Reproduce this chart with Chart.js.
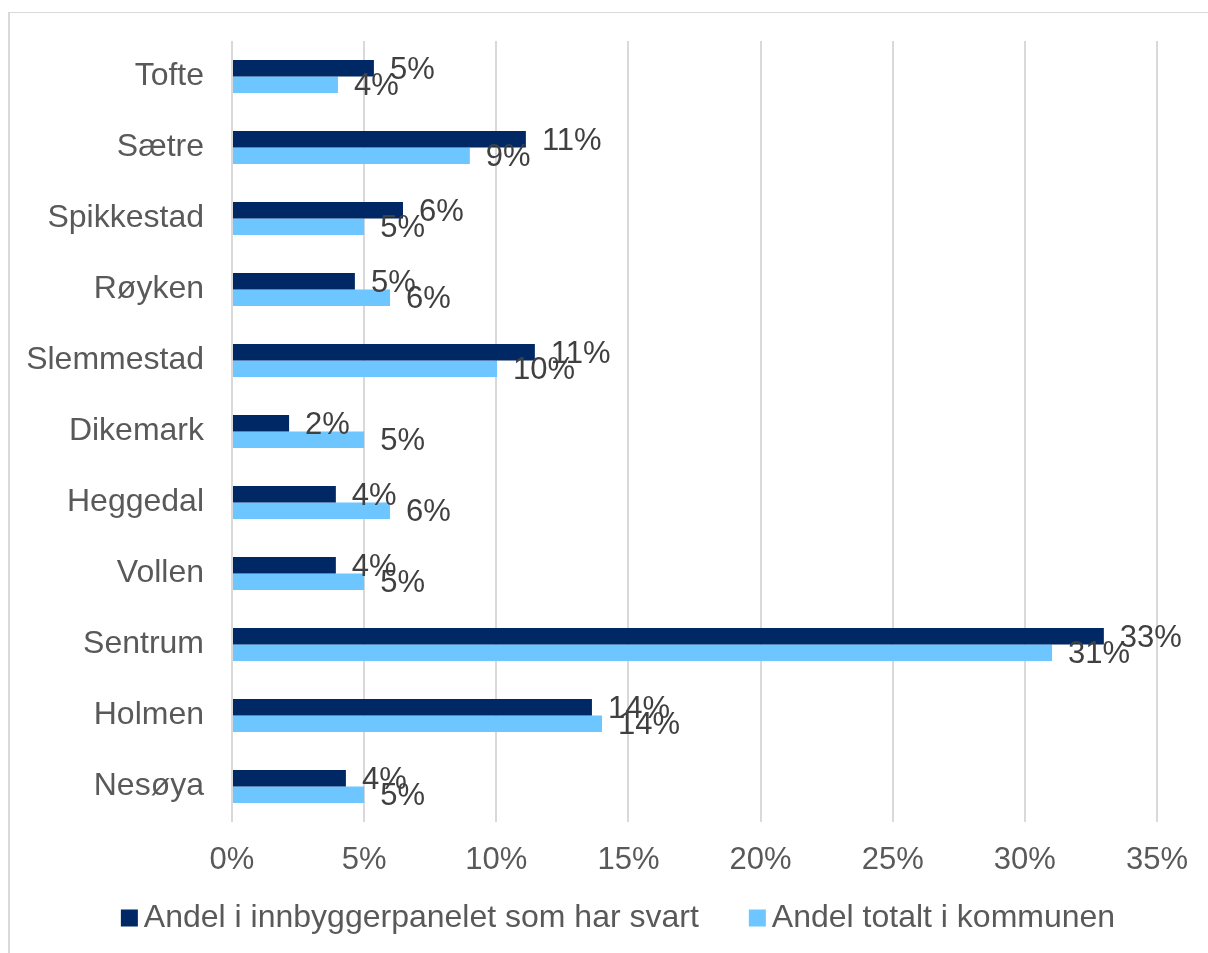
<!DOCTYPE html>
<html lang="no">
<head>
<meta charset="utf-8">
<title>Andel per område</title>
<script src="https://cdn.jsdelivr.net/npm/chart.js@4/dist/chart.umd.min.js"></script>
<style>
  html, body { margin: 0; padding: 0; background: #fff; overflow: hidden; }
  #ramme {
    position: absolute; left: 8px; top: 12px;
    width: 1220px; height: 960px;
    border: 1px solid #d9d9d9; border-left-width: 2px;
  }
  #wrap { position: absolute; left: 0; top: 0; width: 1208px; height: 953px; }
</style>
</head>
<body>
<div id="ramme"></div>
<div id="wrap"><canvas id="chartOmrade" width="1208" height="953"></canvas></div>
<script>
// områder, øverst til nederst
const omrader = ["Tofte", "Sætre", "Spikkestad", "Røyken", "Slemmestad", "Dikemark",
  "Heggedal", "Vollen", "Sentrum", "Holmen", "Nesøya"];

// andel i prosent
const andelPanel = [5.37, 11.12, 6.47, 4.65, 11.46, 2.16, 3.93, 3.93, 32.99, 13.62, 4.31];
const andelKommune = [4.01, 9.0, 5.0, 5.98, 10.03, 5.0, 5.98, 5.0, 31.03, 14.0, 5.0];

const navnPanel = "Andel i innbyggerpanelet som har svart";
const navnKommune = "Andel totalt i kommunen";

const xMaks = 35;
const xSteg = 5;

const font = "'Liberation Sans', Arial, sans-serif";

// etiketter ved enden av stolpene
const verdiEtiketter = {
  id: "verdiEtiketter",
  afterDatasetsDraw(chart) {
    const ctx = chart.ctx;
    ctx.save();
    ctx.font = "31px " + font;
    ctx.fillStyle = "#404040";
    ctx.textAlign = "left";
    ctx.textBaseline = "middle";
    chart.data.datasets.forEach((ds, i) => {
      chart.getDatasetMeta(i).data.forEach((bar, j) => {
        ctx.fillText(Math.round(ds.data[j]) + "%", bar.x + 16, bar.y + 2);
      });
    });
    ctx.restore();
  }
};

// forklaring nederst, midtstilt i rammen
const forklaring = {
  id: "forklaring",
  afterDraw(chart) {
    const ctx = chart.ctx;
    ctx.save();
    ctx.font = "32px " + font;
    ctx.textBaseline = "middle";
    const boks = 17, luft = 6, mellom = 50;
    const items = chart.data.datasets.map(ds => ({
      tekst: ds.label, farge: ds.backgroundColor, w: ctx.measureText(ds.label).width
    }));
    let total = 0;
    items.forEach((it, i) => { total += boks + luft + it.w + (i ? mellom : 0); });
    let x = 618 - total / 2;
    const y = 918;
    items.forEach(it => {
      ctx.fillStyle = it.farge;
      ctx.fillRect(x, y - boks / 2, boks, boks);
      ctx.fillStyle = "#595959";
      ctx.fillText(it.tekst, x + boks + luft, y);
      x += boks + luft + it.w + mellom;
    });
    ctx.restore();
  }
};

new Chart(document.getElementById("chartOmrade"), {
  type: "bar",
  data: {
    labels: omrader,
    datasets: [
      { label: navnPanel, data: andelPanel, backgroundColor: "#002865" },
      { label: navnKommune, data: andelKommune, backgroundColor: "#6dc6ff" }
    ]
  },
  options: {
    indexAxis: "y",
    responsive: false,
    animation: false,
    devicePixelRatio: 1,
    categoryPercentage: 0.466,
    barPercentage: 1,
    layout: { padding: { left: 0, top: 41, right: 51, bottom: 0 } },
    plugins: {
      legend: { display: false },
      tooltip: { enabled: false }
    },
    scales: {
      x: {
        min: 0, max: xMaks,
        ticks: {
          stepSize: xSteg,
          padding: 20,
          color: "#595959",
          font: { family: font, size: 31 },
          callback: v => v + "%"
        },
        grid: { color: "#d9d9d9", lineWidth: 2, drawTicks: false },
        border: { display: false },
        afterFit: s => { s.height = 131; }
      },
      y: {
        ticks: {
          padding: 28,
          color: "#595959",
          font: { family: font, size: 32 }
        },
        grid: { display: false, drawTicks: false },
        border: { display: false },
        afterFit: s => {
          s.width = 232;
          s.paddingTop = 0;
          s.paddingBottom = 0;
        }
      }
    }
  },
  plugins: [verdiEtiketter, forklaring]
});
</script>
</body>
</html>
